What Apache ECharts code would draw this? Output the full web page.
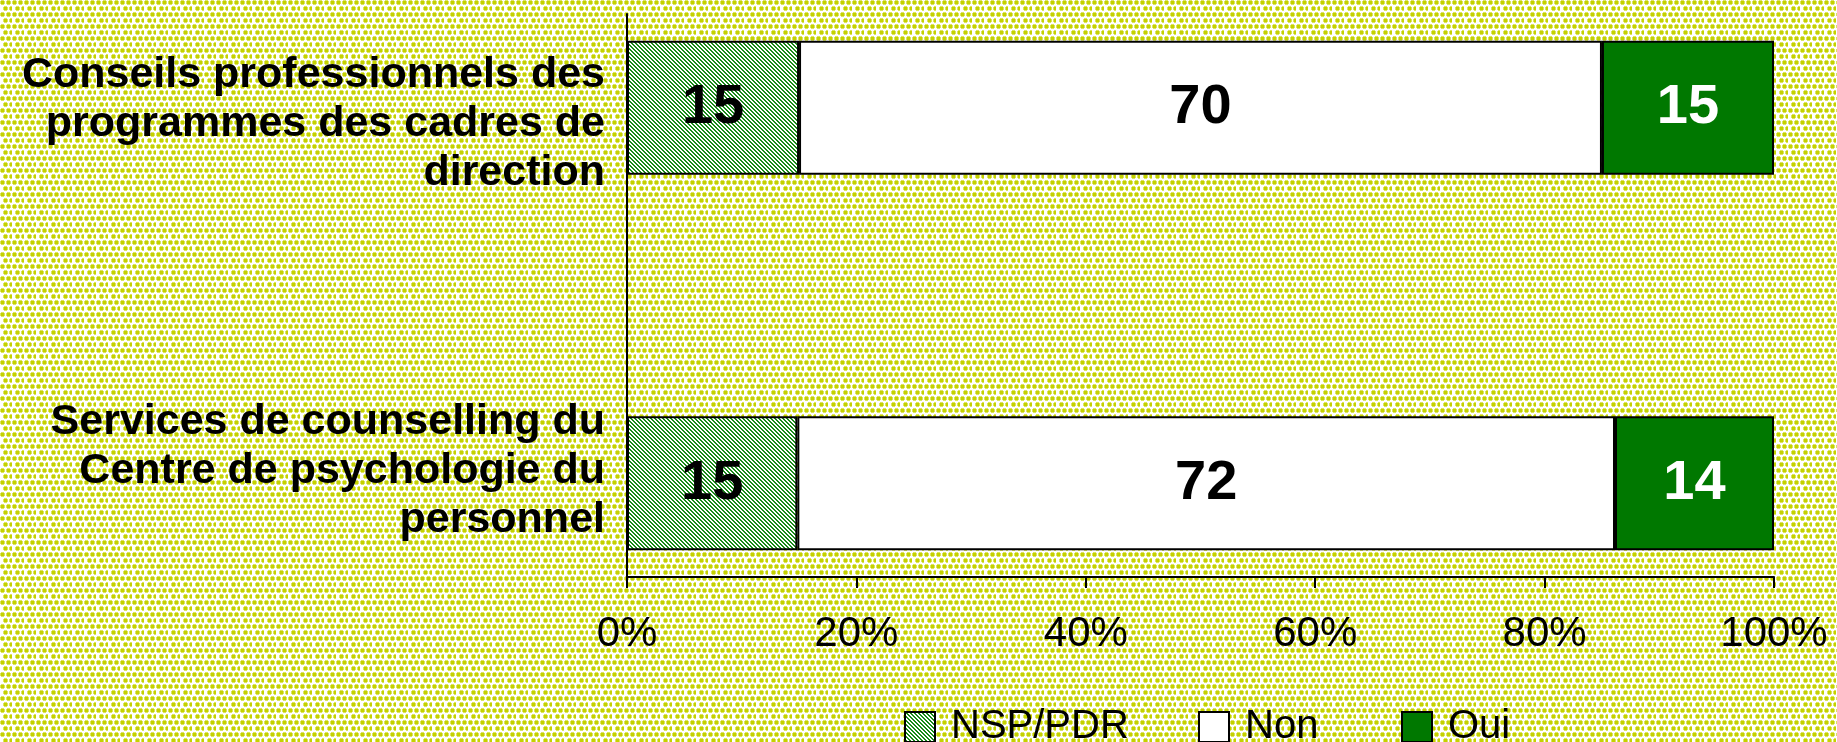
<!DOCTYPE html>
<html><head><meta charset="utf-8">
<script src="https://cdn.jsdelivr.net/npm/echarts@6/dist/echarts.min.js"></script>
<style>html,body{margin:0;padding:0;overflow:hidden;} #chart{width:1837px;height:742px;}</style>
</head><body><div id="chart"></div>
<script>
// ---- data ----
const categories = [
  'Conseils professionnels des\nprogrammes des cadres de\ndirection',
  '',
  'Services de counselling du\nCentre de psychologie du\npersonnel'
];
const nspValues = [15, null, 15];
const nonValues = [70, null, 72];
const ouiValues = [15, null, 14];
const seriesNames = ['NSP/PDR', 'Non', 'Oui'];
const xTickLabels = ['0%', '20%', '40%', '60%', '80%', '100%'];

// ---- patterns ----
function makeBg() {
  const c = document.createElement('canvas');
  c.width = 12; c.height = 12;
  const g = c.getContext('2d');
  g.fillStyle = '#ffffff'; g.fillRect(0, 0, 12, 12);
  const dots = [[1, 1], [7, 1], [4, 7], [10, 7]];
  dots.forEach(([x, y]) => {
    g.fillStyle = '#dce460';
    g.fillRect(x - 1, y, 5, 3); g.fillRect(x, y - 1, 3, 5);
    g.fillStyle = '#c4d100';
    g.fillRect(x, y, 3, 3);
  });
  return c;
}
function makeHatch() {
  const c = document.createElement('canvas');
  c.width = 4; c.height = 4;
  const g = c.getContext('2d');
  g.fillStyle = '#ffffff'; g.fillRect(0, 0, 4, 4);
  g.fillStyle = '#1a8a1a';
  for (let i = 0; i < 4; i++) { g.fillRect(i, i, 1, 1); g.fillRect((i + 1) % 4, i, 1, 1); }
  return c;
}
const bgCanvas = makeBg();
document.body.style.background = 'url(' + bgCanvas.toDataURL() + ')';
const hatch = { image: makeHatch(), repeat: 'repeat' };

const totals = nspValues.map((v, i) => v == null ? null : v + nonValues[i] + ouiValues[i]);
const norm = arr => arr.map((v, i) => v == null ? '-' : v / totals[i] * 100);
const raw = [nspValues, nonValues, ouiValues];

const FONT = 'Liberation Sans, Arial, Helvetica, sans-serif';
const colors = [hatch, '#ffffff', '#007800'];
const labelColors = ['#000000', '#000000', '#ffffff'];

const series = [0, 1, 2].map(k => ({
  name: seriesNames[k],
  type: 'bar',
  stack: 'total',
  barWidth: 134,
  data: norm(raw[k]),
  itemStyle: { color: colors[k], borderColor: '#000', borderWidth: 2 },
  label: {
    show: true, position: 'inside',
    color: labelColors[k], fontFamily: FONT, fontWeight: 'bold', fontSize: 56,
    formatter: p => String(raw[k][p.dataIndex])
  },
  emphasis: { disabled: true }
}));

const legendLefts = [904, 1198, 1401];
const legends = seriesNames.map((n, k) => ({
  data: [n], left: legendLefts[k], top: 707,
  itemWidth: 30, itemHeight: 30, itemGap: 0, padding: 0,
  icon: 'rect',
  textStyle: { fontFamily: FONT, fontSize: 40, color: '#000', padding: [0, 0, 0, 11] },
  selectedMode: false
}));

const chart = echarts.init(document.getElementById('chart'), null, { renderer: 'canvas' });
chart.setOption({
  backgroundColor: 'transparent',
  animation: false,
  grid: { left: 627, right: 63, top: 14, bottom: 165, containLabel: false },
  legend: legends,
  xAxis: {
    type: 'value', min: 0, max: 100, interval: 20,
    axisLine: { show: true, lineStyle: { color: '#000', width: 2 } },
    axisTick: { show: true, length: 11, lineStyle: { color: '#000', width: 2 } },
    splitLine: { show: false },
    axisLabel: {
      margin: 36, fontFamily: FONT, fontSize: 42, color: '#000',
      formatter: v => xTickLabels[Math.round(v / 20)]
    }
  },
  yAxis: {
    type: 'category', inverse: true,
    data: categories,
    axisLine: { show: true, lineStyle: { color: '#000', width: 2 } },
    axisTick: { show: false },
    axisLabel: {
      margin: 22, fontFamily: FONT, fontSize: 43, fontWeight: 'bold', color: '#000',
      lineHeight: 49, align: 'right',
      formatter: (v, i) => i === 0 ? '{s1| }\n' + v : (i === 2 ? v + '\n{s2| }' : v),
      rich: {
        s1: { fontSize: 1, lineHeight: 33 },
        s2: { fontSize: 1, lineHeight: 24 }
      }
    }
  },
  series: series
});
</script>
</body></html>
